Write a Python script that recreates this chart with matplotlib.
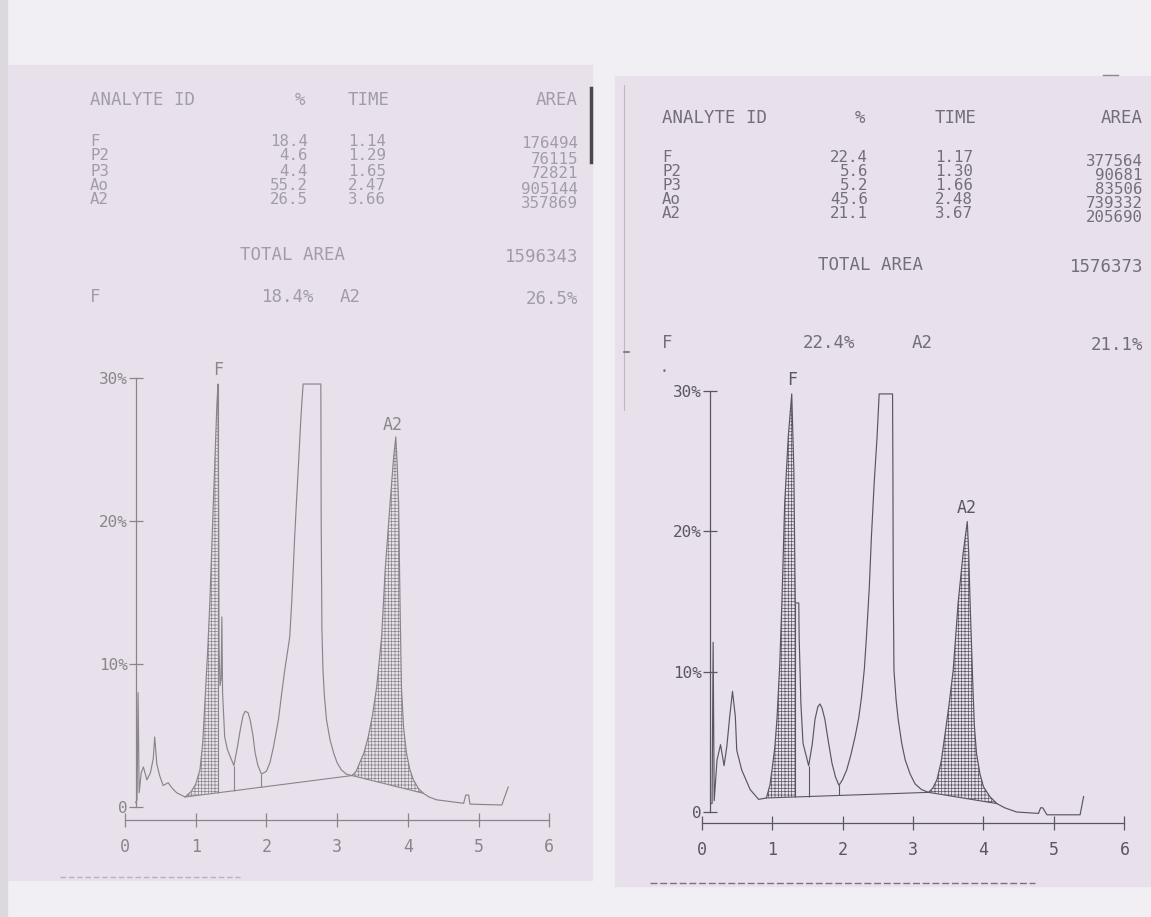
import numpy as np
import matplotlib
matplotlib.use("Agg")
import matplotlib.pyplot as plt
from matplotlib.patches import Rectangle
from matplotlib.lines import Line2D

# ---- report tables ----
analytes = ["F", "P2", "P3", "Ao", "A2"]

left_pct = ["18.4", "4.6", "4.4", "55.2", "26.5"]
left_time = ["1.14", "1.29", "1.65", "2.47", "3.66"]
left_area = ["176494", "76115", "72821", "905144", "357869"]
left_total = "1596343"
left_f, left_a2 = "18.4%", "26.5%"

right_pct = ["22.4", "5.6", "5.2", "45.6", "21.1"]
right_time = ["1.17", "1.30", "1.66", "2.48", "3.67"]
right_area = ["377564", "90681", "83506", "739332", "205690"]
right_total = "1576373"
right_f, right_a2 = "22.4%", "21.1%"

# ---- chromatogram traces (time in min, signal in %) ----
left_t = [0.15, 0.17, 0.185, 0.20, 0.23, 0.26, 0.31, 0.36, 0.40, 0.42, 0.45, 0.49, 0.54, 0.61,
          0.67, 0.73, 0.85, 0.94, 1.00, 1.06, 1.10, 1.13, 1.17, 1.20, 1.25, 1.30, 1.315,
          1.325, 1.33, 1.345, 1.36, 1.37, 1.38, 1.41, 1.45, 1.49, 1.54, 1.59, 1.63, 1.67,
          1.70, 1.74, 1.77, 1.81, 1.84, 1.88, 1.93, 2.00, 2.05, 2.10, 2.17, 2.21, 2.26, 2.30,
          2.33, 2.36, 2.40, 2.43, 2.45, 2.48, 2.50, 2.52, 2.77, 2.775, 2.785, 2.80, 2.82,
          2.85, 2.90, 2.95, 3.00, 3.06, 3.13, 3.21, 3.27, 3.32, 3.38, 3.44, 3.50, 3.56, 3.63,
          3.68, 3.75, 3.80, 3.83, 3.85, 3.87, 3.89, 3.91, 3.94, 3.98, 4.03, 4.08, 4.15, 4.22,
          4.30, 4.41, 4.79, 4.82, 4.86, 4.88, 5.33, 5.42]
left_sig = [0.3, 0.5, 8.0, 1.0, 2.4, 2.8, 1.9, 2.4, 3.4, 4.9, 3.0, 2.2, 1.5, 1.7,
            1.3, 1.0, 0.7, 1.1, 1.6, 2.6, 4.5, 7.3, 11.0, 14.3, 21.3, 28.2, 29.6,
            20.0, 11.0, 8.5, 9.0, 13.3, 8.0, 4.9, 4.0, 3.5, 2.9, 4.2, 5.4, 6.4,
            6.7, 6.6, 6.1, 5.0, 3.8, 2.9, 2.3, 2.5, 3.1, 4.2, 6.1, 7.7, 9.6, 10.9,
            11.9, 14.5, 18.9, 21.8, 23.6, 26.5, 28.2, 29.6, 29.6, 20.0, 12.5, 9.6, 7.8,
            6.1, 4.7, 3.8, 3.1, 2.6, 2.3, 2.2, 2.5, 3.1, 3.8, 4.9, 6.4, 8.4, 11.9,
            16.6, 21.3, 24.5, 25.9, 24.0, 21.3, 14.3, 8.4, 5.6, 3.8, 2.6, 1.9, 1.3, 0.96,
            0.7, 0.5, 0.26, 0.84, 0.84, 0.2, 0.14, 1.4]
left_base_t = [0.85, 3.21, 4.22]
left_base = [0.7, 2.2, 0.96]
left_hatch = [(0.85, 1.315), (3.21, 4.22)]
left_drops = [1.315, 1.54, 1.93]

right_t = [0.13, 0.15, 0.165, 0.18, 0.22, 0.27, 0.32, 0.36, 0.40, 0.44, 0.48, 0.50, 0.57, 0.69,
           0.81, 0.92, 0.97, 1.00, 1.04, 1.07, 1.11, 1.14, 1.18, 1.23, 1.28, 1.31, 1.33, 1.35,
           1.38, 1.385, 1.41, 1.44, 1.52, 1.57, 1.61, 1.65, 1.68, 1.71, 1.75, 1.80, 1.85, 1.90,
           1.95, 2.00, 2.06, 2.12, 2.18, 2.23, 2.27, 2.31, 2.34, 2.38, 2.41, 2.45, 2.49, 2.52,
           2.71, 2.715, 2.72, 2.73, 2.76, 2.79, 2.84, 2.89, 2.96, 3.03, 3.12, 3.22, 3.28, 3.34,
           3.40, 3.45, 3.51, 3.57, 3.64, 3.71, 3.77, 3.79, 3.81, 3.85, 3.87, 3.90, 3.95, 4.00,
           4.09, 4.19, 4.30, 4.47, 4.78, 4.81, 4.84, 4.90, 5.37, 5.42]
right_sig = [0.6, 0.6, 12.1, 0.8, 3.7, 4.8, 3.3, 4.7, 6.8, 8.6, 6.8, 4.4, 3.0, 1.6,
             0.9, 1.0, 1.9, 3.0, 4.6, 6.6, 10.5, 14.9, 22.0, 26.7, 29.8, 24.4, 14.9, 14.9,
             14.9, 12.5, 7.7, 4.9, 3.3, 4.8, 6.6, 7.5, 7.7, 7.4, 6.6, 5.0, 3.5, 2.5,
             1.9, 2.3, 3.0, 4.1, 5.4, 6.7, 8.2, 10.2, 12.5, 16.0, 19.6, 23.5, 26.7, 29.8,
             29.8, 24.4, 16.1, 10.1, 8.0, 6.6, 4.9, 3.7, 2.7, 2.0, 1.6, 1.4, 1.7, 2.3,
             3.6, 5.4, 7.6, 10.1, 14.9, 18.4, 20.7, 18.5, 14.9, 8.9, 6.2, 4.2, 2.7, 1.8,
             1.1, 0.6, 0.3, 0.0, -0.1, 0.3, 0.3, -0.2, -0.2, 1.1]
right_base_t = [0.92, 3.22, 4.19]
right_base = [1.0, 1.4, 0.6]
right_hatch = [(0.92, 1.33), (3.22, 4.19)]
right_drops = [1.33, 1.52, 1.95]

x_ticks = [0, 1, 2, 3, 4, 5, 6]
x_labels = ["0", "1", "2", "3", "4", "5", "6"]
y_ticks = [0, 10, 20, 30]
y_labels = ["0", "10%", "20%", "30%"]

W, H = 1151, 917
PAGE = "#f2eff4"
SHEET = "#e8e1eb"
MONO = ["DejaVu Sans Mono"]

plt.rcParams["hatch.linewidth"] = 0.5

fig = plt.figure(figsize=(W / 100, H / 100), dpi=100)
fig.patch.set_facecolor(PAGE)


def fx(px):
    return px / W


def fy(py):
    return 1 - py / H


def txt(px, py, s, color, ha="left", size=12.5):
    fig.text(fx(px), fy(py), s, color=color, ha=ha, va="center",
             family=MONO, fontsize=size)


# paper sheets (behind everything)
for x0, y0, x1, y1, c in [(0, 0, 7, 917, "#dcd8de"), (8, 65, 592, 880, SHEET),
                          (615, 76, 1151, 886, SHEET)]:
    fig.patches.append(Rectangle((fx(x0), fy(y1)), fx(x1 - x0), (y1 - y0) / H,
                                 transform=fig.transFigure, color=c, zorder=-5))


def table(x_id, x_pct, x_time, x_area, y_head, rows_y, y_total, x_total, y_last,
          x_f2, x_a2, pct, times, areas, total, fval, a2val, color):
    txt(x_id, y_head, "ANALYTE ID", color)
    txt(x_pct, y_head, "%", color, ha="center")
    txt(x_time, y_head, "TIME", color)
    txt(x_area, y_head, "AREA", color, ha="right")
    rs = 11.3
    for i, name in enumerate(analytes):
        y = rows_y[i]
        txt(x_id, y, name, color, size=rs)
        txt(x_pct + 8, y, pct[i], color, ha="right", size=rs)
        txt(x_time, y, times[i], color, size=rs)
        txt(x_area, y + 3, areas[i], color, ha="right", size=rs)
    txt(x_total, y_total, "TOTAL AREA", color)
    txt(x_area, y_total + 2, total, color, ha="right")
    txt(x_id, y_last, "F", color)
    txt(x_f2, y_last, fval, color)
    txt(x_a2, y_last, "A2", color)
    txt(x_area, y_last + 2, a2val, color, ha="right")


table(90, 300, 348, 578, 100, [141, 156, 171, 186, 200], 255, 240, 297, 262, 340,
      left_pct, left_time, left_area, left_total, left_f, left_a2, "#a29ca6")
table(662, 860, 935, 1143, 118, [158, 172, 186, 200, 214], 265, 818, 343, 803, 912,
      right_pct, right_time, right_area, right_total, right_f, right_a2, "#736e78")


def chart(rect, t, sig, base_t, base, hatches, drops, color, x_axis_at, y_axis_at,
          f_pos, a2_pos):
    ax = fig.add_axes(rect)
    ax.patch.set_alpha(0)
    t = np.array(t)
    sig = np.array(sig)
    ax.plot(t, sig, color=color, lw=0.85)
    ax.plot(base_t, base, color=color, lw=0.8)
    for a, b in hatches:
        m = (t >= a) & (t <= b)
        ax.fill_between(t[m], sig[m], np.interp(t[m], base_t, base), facecolor="none",
                        edgecolor=color, hatch="+++++", linewidth=0)
    ax.vlines(drops, np.interp(drops, base_t, base), np.interp(drops, t, sig),
              color=color, lw=0.8)
    ax.text(f_pos[0], f_pos[1], "F", color=color, ha="center", va="center",
            family=MONO, fontsize=12)
    ax.text(a2_pos[0], a2_pos[1], "A2", color=color, ha="center", va="center",
            family=MONO, fontsize=12)
    ax.set_xlim(-0.3, 6.3)
    ax.set_ylim(-3, 32)
    for s in ("top", "right"):
        ax.spines[s].set_visible(False)
    ax.spines["left"].set_position(("data", y_axis_at))
    ax.spines["left"].set_bounds(0, 30)
    ax.spines["bottom"].set_position(("data", x_axis_at))
    ax.spines["bottom"].set_bounds(0, 6)
    for s in ("left", "bottom"):
        ax.spines[s].set_color(color)
        ax.spines[s].set_linewidth(0.9)
    ax.set_xticks(x_ticks)
    ax.set_xticklabels(x_labels, family=MONO, fontsize=12)
    ax.set_yticks(y_ticks)
    ax.set_yticklabels(y_labels, family=MONO, fontsize=11.5)
    ax.tick_params(axis="both", direction="inout", length=10, width=0.9, color=color,
                   labelcolor=color)
    ax.tick_params(axis="x", pad=8)
    ax.tick_params(axis="y", pad=1)
    return ax


# left chart: t=0 at x=125px, 70.7 px/min ; 0% at y=807px, 14.29 px/%
chart([fx(125 - 0.3 * 70.7), fy(807 + 3 * 14.29), 6.6 * 70.7 / W, 35 * 14.29 / H],
      left_t, left_sig, left_base_t, left_base, left_hatch, left_drops, "#8a858d",
      -0.9, 0.16, (1.315, 30.6), (3.79, 26.7))
# right chart: t=0 at x=701.5px, 70.5 px/min ; 0% at y=812px, 14.03 px/%
chart([fx(701.5 - 0.3 * 70.5), fy(812 + 3 * 14.03), 6.6 * 70.5 / W, 35 * 14.03 / H],
      right_t, right_sig, right_base_t, right_base, right_hatch, right_drops, "#5a565f",
      -0.75, 0.12, (1.28, 30.8), (3.76, 21.7))


# marks on the paper
def fline(xs, ys, **kw):
    fig.add_artist(Line2D([fx(v) for v in xs], [fy(v) for v in ys],
                          transform=fig.transFigure, **kw))


fline([591, 591], [88, 162], color="#4a474d", lw=2.5)
fline([624, 624], [85, 410], color="#bdb7c0", lw=0.8)
fline([60, 240], [877, 877], color="#b8b2bb", lw=1, ls=(0, (4, 2)))
fline([650, 1035], [883, 883], color="#78737c", lw=1, ls=(0, (5, 2)))
fline([1103, 1118], [75, 75], color="#8a858d", lw=1)
fline([624, 629], [352, 352], color="#77727a", lw=1.2)
fig.text(fx(664), fy(372), "•", color="#77727a", ha="center", va="center", fontsize=6)

fig.savefig("out.png", dpi=100, facecolor=fig.get_facecolor())
